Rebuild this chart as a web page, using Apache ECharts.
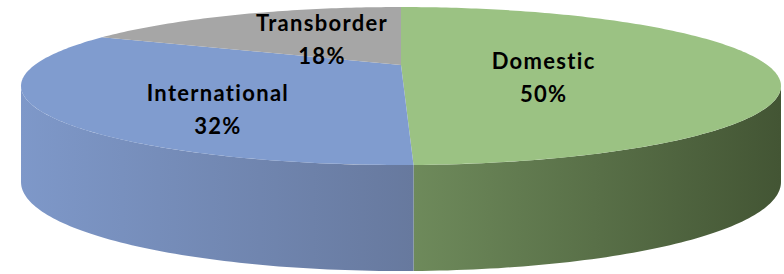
<!DOCTYPE html>
<html>
<head>
<meta charset="utf-8">
<script src="https://cdn.jsdelivr.net/npm/echarts@6/dist/echarts.min.js"></script>
<style>
  html, body { margin: 0; padding: 0; background: #fff; }
  #chart { width: 784px; height: 274px; }
  #chart text { letter-spacing: 1.3px; font-variant-ligatures: none; }
</style>
</head>
<body>
<div id="chart"></div>
<script>
// slice data, clockwise from 12 o'clock
const categories = ["Domestic", "International", "Transborder"];
const shares = [49.6, 32.3, 18.1];

// styling
const topColors = ["#9bc283", "#809ccf", "#a6a6a6"];
const sideColors = [["#6e8a5b", "#435534"], ["#7e98c9", "#67799e"], ["#8c8c8c", "#6c6c6c"]];
const labelRadius = [0.39, 0.55, 0.44];
const labelShift = [12, 20, -1];

// perspective view of the disc (pixels)
const view = { cx: 401, cy: 65, a: 366.3, b: 73.4, k: 0.266, depth: 92.8, k2: 0.125 };

const total = shares.reduce((s, v) => s + v, 0);
const starts = [];
shares.reduce((acc, v) => { starts.push(acc); return acc + v; }, 0);

function project(theta, r, down) {
  const u = r * Math.sin(theta);
  const v = r * Math.cos(theta);
  const w = 1 + view.k * v;
  return [
    view.cx + view.a * u / w,
    view.cy - view.b * v / w + (down ? view.depth / (1 + view.k2 * v) : 0)
  ];
}

function arc(t0, t1, down) {
  const pts = [];
  const n = Math.max(2, Math.ceil(Math.abs(t1 - t0) / (Math.PI / 180)));
  for (let i = 0; i <= n; i++) pts.push(project(t0 + (t1 - t0) * i / n, 1, down));
  return pts;
}

// front wall is visible where cos(theta) < -k
const wallFrom = Math.acos(-view.k);
const wallTo = 2 * Math.PI - wallFrom;

function renderItem(params, api) {
  const i = params.dataIndex;
  const value = api.value(0);
  const t0 = starts[i] / total * 2 * Math.PI;
  const t1 = (starts[i] + value) / total * 2 * Math.PI;
  const children = [];

  const w0 = Math.max(t0, wallFrom);
  const w1 = Math.min(t1, wallTo);
  if (w1 > w0) {
    const upper = arc(w0, w1, false);
    const lower = arc(w0, w1, true).reverse();
    const xs = upper.map((p) => p[0]);
    children.push({
      type: "polygon",
      z2: 1,
      shape: { points: upper.concat(lower) },
      style: {
        fill: new echarts.graphic.LinearGradient(Math.min(...xs), 0, Math.max(...xs), 0, [
          { offset: 0, color: sideColors[i][0] },
          { offset: 1, color: sideColors[i][1] }
        ], true)
      }
    });
  }

  children.push({
    type: "polygon",
    z2: 10,
    shape: { points: [project(0, 0, false)].concat(arc(t0, t1, false)) },
    style: { fill: topColors[i] }
  });

  const mid = (t0 + t1) / 2;
  const lp = project(mid, labelRadius[i], false);
  children.push({
    type: "text",
    z2: 20,
    style: {
      text: categories[i] + "\n" + Math.round(value / total * 100) + "%",
      x: lp[0],
      y: lp[1] + labelShift[i],
      align: "center",
      verticalAlign: "middle",
      font: "bold 22px Lato",
      lineHeight: 33,
      fill: "#000"
    }
  });

  return { type: "group", children };
}

const chart = echarts.init(document.getElementById("chart"), null, { renderer: "svg" });
chart.setOption({
  animation: false,
  series: [{
    type: "custom",
    coordinateSystem: "none",
    renderItem,
    data: shares.map((v, i) => ({ name: categories[i], value: [v] }))
  }]
});
</script>
</body>
</html>
